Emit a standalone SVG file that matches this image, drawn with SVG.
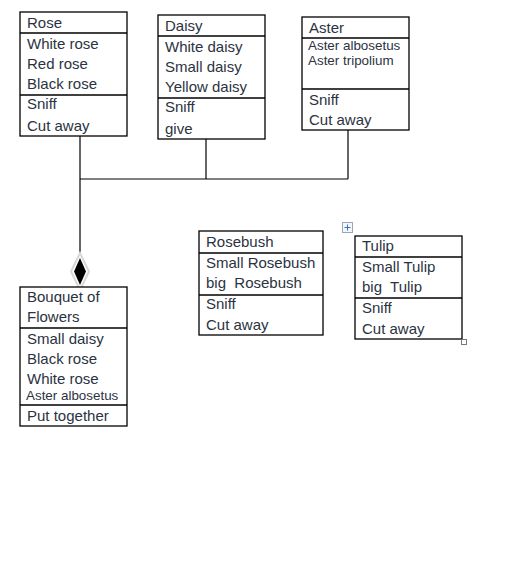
<svg xmlns="http://www.w3.org/2000/svg" width="524" height="562" viewBox="0 0 524 562">
<style>
.box{fill:#fff;stroke:#000;stroke-width:1.3}
.div{stroke:#000;stroke-width:1.3}
text{font-family:"Liberation Sans",Arial,sans-serif;font-size:15px;fill:#2b3342;white-space:pre}
.sm{font-size:13.4px}
.con{stroke:#000;stroke-width:1.2;fill:none}
</style>
<rect width="524" height="562" fill="#fff"/>
<g id="connectors">
<path class="con" d="M80,136V256"/>
<path class="con" d="M80,179H348"/>
<path class="con" d="M206,139V179"/>
<path class="con" d="M348,130V179"/>
<polygon points="80,253 89,271.5 80,290 71,271.5" fill="#fff" stroke="#d8d8d8" stroke-width="2"/>
<polygon points="80,258 86,271.5 80,285 74,271.5" fill="#000"/>
</g>
<g id="rose">
<rect class="box" x="20" y="12" width="107" height="124"/>
<line class="div" x1="20" y1="33" x2="127" y2="33"/>
<line class="div" x1="20" y1="95" x2="127" y2="95"/>
<text x="27" y="28">Rose</text>
<text x="27" y="49">White rose</text>
<text x="27" y="69">Red rose</text>
<text x="27" y="89">Black rose</text>
<text x="27" y="109">Sniff</text>
<text x="27" y="131">Cut away</text>
</g>
<g id="daisy">
<rect class="box" x="158" y="15" width="107" height="124"/>
<line class="div" x1="158" y1="36" x2="265" y2="36"/>
<line class="div" x1="158" y1="98" x2="265" y2="98"/>
<text x="165" y="31">Daisy</text>
<text x="165" y="52">White daisy</text>
<text x="165" y="72">Small daisy</text>
<text x="165" y="92">Yellow daisy</text>
<text x="165" y="112">Sniff</text>
<text x="165" y="134">give</text>
</g>
<g id="aster">
<rect class="box" x="302" y="17" width="107" height="113"/>
<line class="div" x1="302" y1="38" x2="409" y2="38"/>
<line class="div" x1="302" y1="89" x2="409" y2="89"/>
<text x="309" y="33">Aster</text>
<text class="sm" x="308" y="50">Aster albosetus</text>
<text class="sm" x="308" y="65">Aster tripolium</text>
<text x="309" y="105">Sniff</text>
<text x="309" y="125">Cut away</text>
</g>
<g id="bouquet">
<rect class="box" x="20" y="287" width="107" height="139"/>
<line class="div" x1="20" y1="328" x2="127" y2="328"/>
<line class="div" x1="20" y1="405" x2="127" y2="405"/>
<text x="27" y="302">Bouquet of</text>
<text x="27" y="322">Flowers</text>
<text x="27" y="344">Small daisy</text>
<text x="27" y="364">Black rose</text>
<text x="27" y="384">White rose</text>
<text class="sm" x="26" y="400">Aster albosetus</text>
<text x="27" y="421">Put together</text>
</g>
<g id="rosebush">
<rect class="box" x="199" y="231" width="124" height="104"/>
<line class="div" x1="199" y1="253" x2="323" y2="253"/>
<line class="div" x1="199" y1="295" x2="323" y2="295"/>
<text x="206" y="247">Rosebush</text>
<text x="206" y="268">Small Rosebush</text>
<text x="206" y="288" xml:space="preserve">big  Rosebush</text>
<text x="206" y="309">Sniff</text>
<text x="206" y="330">Cut away</text>
</g>
<g id="tulip">
<rect class="box" x="355" y="236" width="107" height="103"/>
<line class="div" x1="355" y1="257" x2="462" y2="257"/>
<line class="div" x1="355" y1="298" x2="462" y2="298"/>
<text x="362" y="251">Tulip</text>
<text x="362" y="272">Small Tulip</text>
<text x="362" y="292" xml:space="preserve">big  Tulip</text>
<text x="362" y="313">Sniff</text>
<text x="362" y="334">Cut away</text>
<rect x="342.5" y="222.5" width="10" height="10" fill="#f3f6fb" stroke="#9aa6b8" stroke-width="1"/>
<path d="M347.5,224.5V230.5M344.5,227.5H350.5" stroke="#3a6fc8" stroke-width="1"/>
<rect x="461.5" y="339.5" width="5" height="5" fill="#fff" stroke="#777" stroke-width="1"/>
</g>
</svg>
